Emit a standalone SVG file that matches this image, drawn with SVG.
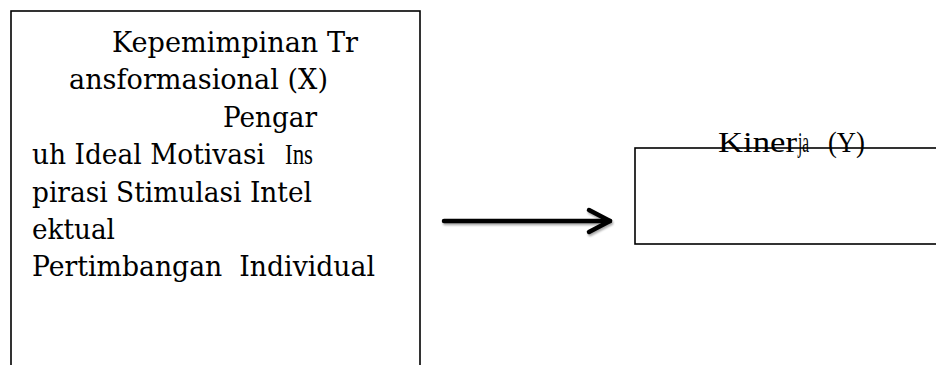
<svg xmlns="http://www.w3.org/2000/svg" width="936" height="365" viewBox="0 0 936 365">
<style>
.box{fill:#fff;stroke:#000;stroke-width:1.6}
.t{font-family:"DejaVu Serif","Liberation Serif",serif;font-size:28.5px;fill:#000;white-space:pre}
.k{font-family:"Liberation Serif",serif;font-size:29px;fill:#000}
.n{font-family:"Liberation Serif",serif;font-size:29px;fill:#000}
.arrow{fill:none;stroke:#000;stroke-width:4.5;stroke-linecap:round;stroke-linejoin:round}
</style>
<defs>
<filter id="sh" x="-10%" y="-50%" width="120%" height="200%">
<feGaussianBlur in="SourceAlpha" stdDeviation="1.2"/>
<feOffset dx="1" dy="2" result="b"/>
<feComponentTransfer><feFuncA type="linear" slope="0.35"/></feComponentTransfer>
<feMerge><feMergeNode/><feMergeNode in="SourceGraphic"/></feMerge>
</filter>
</defs>
<rect width="936" height="365" fill="#fff"/>
<g id="node-x">
<rect class="box" x="11" y="11" width="409" height="370"/>
<text class="t" x="112" y="52" textLength="246" lengthAdjust="spacingAndGlyphs">Kepemimpinan Tr</text>
<text class="t" x="69" y="89" textLength="259" lengthAdjust="spacingAndGlyphs">ansformasional (X)</text>
<text class="t" x="223" y="127" textLength="94" lengthAdjust="spacingAndGlyphs">Pengar</text>
<text class="t" x="32" y="164" textLength="233" lengthAdjust="spacingAndGlyphs">uh Ideal Motivasi</text>
<text class="n" x="285" y="164" textLength="28" lengthAdjust="spacingAndGlyphs">Ins</text>
<text class="t" x="32" y="202" textLength="280" lengthAdjust="spacingAndGlyphs">pirasi Stimulasi Intel</text>
<text class="t" x="32" y="239" textLength="83" lengthAdjust="spacingAndGlyphs">ektual</text>
<text class="t" x="32" y="276" textLength="343" lengthAdjust="spacingAndGlyphs">Pertimbangan  Individual</text>
</g>
<g id="node-y">
<rect class="box" x="635" y="148" width="320" height="96"/>
<text class="k" x="718" y="152" textLength="79" lengthAdjust="spacingAndGlyphs">Kiner</text>
<text class="n" x="798" y="152" textLength="11" lengthAdjust="spacingAndGlyphs">ja</text>
<text class="k" x="828" y="152" textLength="37" lengthAdjust="spacingAndGlyphs">(Y)</text>
</g>
<g id="connectors" filter="url(#sh)">
<path class="arrow" d="M444 221 H610"/>
<path class="arrow" d="M589 210 L610 221 L589 232"/>
</g>
</svg>
